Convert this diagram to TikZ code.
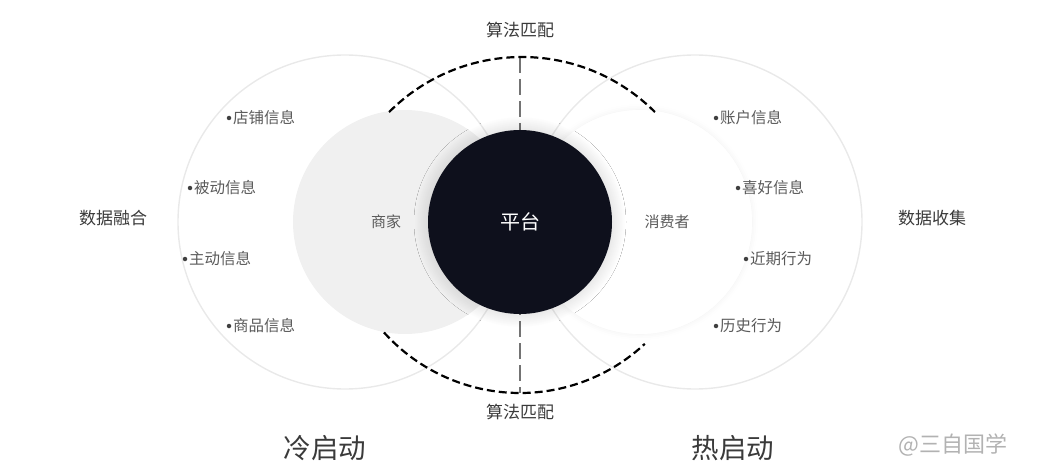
\documentclass[tikz,border=0pt]{standalone}
\usepackage{fontspec}
\setmainfont{Noto Sans CJK SC}
\usetikzlibrary{shadows.blur}
\definecolor{platform}{HTML}{0E101C}
\definecolor{itemgray}{HTML}{5A5A5A}
\definecolor{titlegray}{HTML}{3A3A3A}
\definecolor{ringgray}{HTML}{E9E9E9}
\tikzset{
	ring/.style = {draw=ringgray, line width=1.4pt},
	bulletdot/.style = {circle, fill=black!75, inner sep=0pt, minimum size=4.5pt},
	itemlabel/.style = {right, inner sep=1.5pt, text=itemgray, font=\fontsize{15.5}{15.5}\selectfont},
	match/.style = {black, line width=2.2pt, dash pattern=on 8pt off 4pt},
	axis/.style = {draw=black!55, line width=2.4pt, dash pattern=on 16pt off 6pt}
}
\begin{document}
\begin{tikzpicture}[x=1pt, y=1pt]
				\useasboundingbox (0,0) rectangle (1045,475);
				% fields of the two sides
				\node[circle, fill=black!6, minimum size=224pt, inner sep=0pt] (merchant) at (405,253) {};
				\node[circle, fill=white, minimum size=224pt, inner sep=0pt,
					blur shadow={shadow xshift=0pt, shadow yshift=0pt, shadow blur radius=6pt, shadow opacity=6}] (consumer) at (640,253) {};
				\node[circle, fill=white, minimum size=224pt, inner sep=0pt] at (640,253) {};
				\draw[ring] (345,253) circle (167pt);
				\draw[ring] (695,253) circle (167pt);
				% axis between the arcs
				\coordinate (axistop) at (520,418);
				\coordinate (axisbot) at (520,82);
				\draw[axis] (axistop) -- (axisbot);
				\node[circle, fill=platform, minimum size=184pt, inner sep=0pt,
					blur shadow={shadow xshift=0pt, shadow yshift=0pt, shadow blur radius=14pt, shadow blur steps=30, shadow opacity=18}] (platform) at (520,253) {};
				\draw[match] (522,230) ++(135:188pt) arc (135:45:188pt);
				\draw[match] (520,265) ++(222:183pt) arc (222:313:183pt);
				% texts
				\node[text=white, font=\fontsize{20}{20}\selectfont] at (platform) {平台};
				\node[text=itemgray, font=\fontsize{15}{15}\selectfont] (merchanttext) at (386,253) {商家};
				\node[text=itemgray, font=\fontsize{15}{15}\selectfont] (consumertext) at (667,253) {消费者};
				\node[text=titlegray, font=\fontsize{17}{17}\selectfont] (matchtop) at (520,445) {算法匹配};
				\node[text=titlegray, font=\fontsize{17}{17}\selectfont] (matchbot) at (520,63) {算法匹配};
				\node[text=titlegray, font=\fontsize{17}{17}\selectfont] (fusion) at (113,257) {数据融合};
				\node[text=titlegray, font=\fontsize{17}{17}\selectfont] (collect) at (932,257) {数据收集};
				\node[text=titlegray, font=\fontsize{27.5}{27.5}\selectfont] (cold) at (325,27) {冷启动};
				\node[text=titlegray, font=\fontsize{27.5}{27.5}\selectfont] (hot) at (733,27) {热启动};
				\foreach \x/\y/\t [count=\i] in {229/357/店铺信息, 190/287/被动信息, 185/216/主动信息, 229/149/商品信息} {
					\node[bulletdot] (ldot\i) at (\x,\y) {};
					\node[itemlabel] at (ldot\i.east) {\t};
				}
				\foreach \x/\y/\t [count=\i] in {716/357/账户信息, 738/287/喜好信息, 746/216/近期行为, 716/149/历史行为} {
					\node[bulletdot] (rdot\i) at (\x,\y) {};
					\node[itemlabel] at (rdot\i.east) {\t};
				}
				\node[text=black!30, font=\fontsize{22}{22}\selectfont] (mark) at (953,30) {@三自国学};
			\end{tikzpicture}
\end{document}
